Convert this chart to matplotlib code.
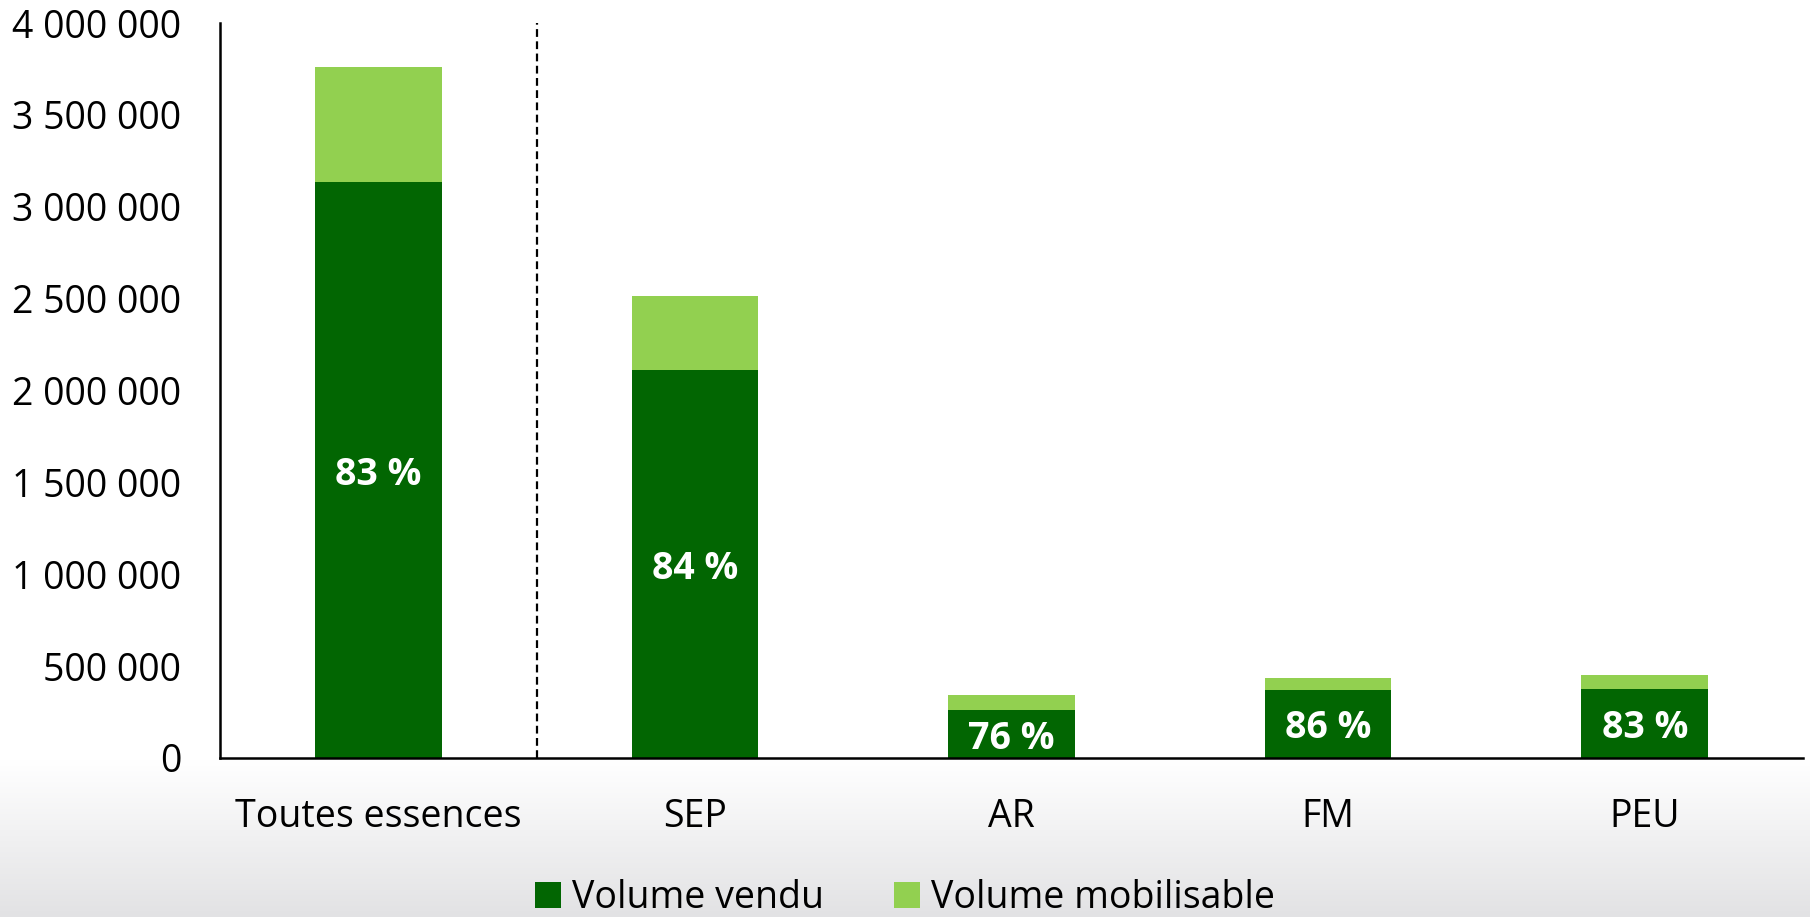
import matplotlib
matplotlib.use("Agg")
import matplotlib.pyplot as plt
import numpy as np
from matplotlib.ticker import FuncFormatter

categories = ["Toutes essences", "SEP", "AR", "FM", "PEU"]
volume_vendu = [3134000, 2110000, 260000, 372000, 375000]
volume_mobilisable = [628000, 402000, 82000, 61000, 77000]
pct_labels = ["83 %", "84 %", "76 %", "86 %", "83 %"]
yticks = [0, 500000, 1000000, 1500000, 2000000, 2500000, 3000000, 3500000, 4000000]

DARK = "#026602"
LIGHT = "#92D050"

plt.rcParams['font.family'] = ['Open Sans', 'DejaVu Sans']

fig = plt.figure(figsize=(18.10, 9.17), dpi=100)
fig.patch.set_facecolor("white")

# background gradient at bottom
bg = fig.add_axes([0, 0, 1, 1], zorder=-10)
bg.axis("off")
bg.set_xlim(0, 1)
bg.set_ylim(0, 1)
g0 = 1 - 760 / 917
grad = np.linspace(0, 1, 256).reshape(-1, 1)
top_c = np.array([1.0, 1.0, 1.0])
bot_c = np.array([0xe2, 0xe2, 0xe4]) / 255
img = top_c[None, None, :] * (1 - grad[..., None]) + bot_c[None, None, :] * grad[..., None]
img = img[::-1]
bg.imshow(img, extent=[0, 1, 0, g0], aspect="auto", origin="lower")

ax = fig.add_axes([220 / 1810, 1 - 758 / 917, (1803 - 220) / 1810, (758 - 23) / 917])
ax.set_facecolor("none")
x = np.arange(len(categories))
w = 0.4
ax.bar(x, volume_vendu, w, color=DARK, label="Volume vendu", zorder=2)
ax.bar(x, volume_mobilisable, w, bottom=volume_vendu, color=LIGHT, label="Volume mobilisable", zorder=2)

for xi, v, lab in zip(x, volume_vendu, pct_labels):
    ax.text(xi, v / 2, lab, ha="center", va="center_baseline", color="white",
            fontsize=27, fontweight="bold", zorder=3)

ax.axvline(0.5, color="black", linestyle=(0, (3.5, 2)), linewidth=1.6, zorder=1)

ax.set_xlim(-0.5, 4.5)
ax.set_ylim(0, 4000000)
ax.set_yticks(yticks)
ax.yaxis.set_major_formatter(FuncFormatter(lambda v, p: f"{int(v):,}".replace(",", " ")))
ax.set_xticks(x)
ax.set_xticklabels(categories)
ax.tick_params(axis="y", length=0, pad=28, labelsize=27)
ax.tick_params(axis="x", length=0, pad=29, labelsize=27)
for s in ["top", "right"]:
    ax.spines[s].set_visible(False)
for s in ["left", "bottom"]:
    ax.spines[s].set_linewidth(1.8)
    ax.spines[s].set_color("black")

leg = fig.legend(loc="center", bbox_to_anchor=(0.5, 1 - 898 / 917), ncol=2, frameon=False,
                 fontsize=27, handlelength=0.7, handleheight=0.7, handletextpad=0.3,
                 columnspacing=1.85)

fig.savefig("out.png", dpi=100)
